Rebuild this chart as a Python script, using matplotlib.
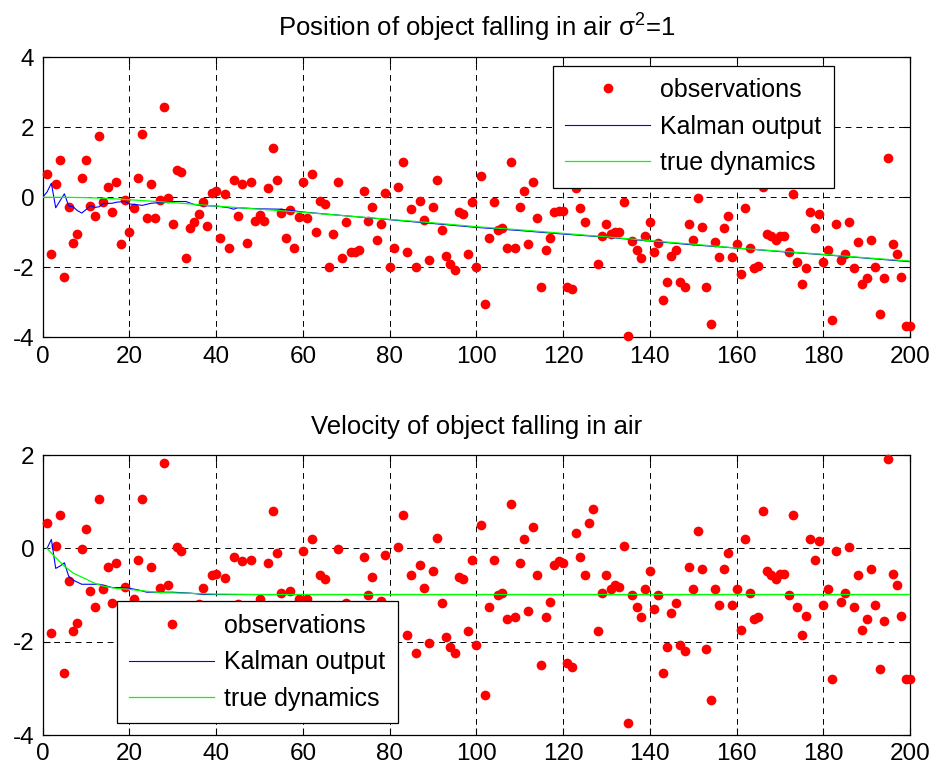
import matplotlib
matplotlib.use("Agg")
import matplotlib.pyplot as plt
import numpy as np

plt.rcParams['font.family'] = ['Liberation Sans', 'DejaVu Sans']
plt.rcParams['mathtext.fontset'] = 'custom'
plt.rcParams['mathtext.rm'] = 'Liberation Sans'
plt.rcParams['axes.unicode_minus'] = False

# ---------------- data ----------------
obs_pos = [0.66, -1.62, 0.37, 1.06, -2.27, -0.27, -1.30, -1.05, 0.54, 1.07,
           -0.25, -0.53, 1.74, -0.14, 0.30, -0.43, 0.43, -1.33, -0.08, -1.00,
           -0.31, 0.54, 1.80, -0.60, 0.37, -0.60, -0.08, 2.59, -0.01, -0.76,
           0.78, 0.71, -1.74, -0.89, -0.70, -0.49, -0.14, -0.82, 0.13, 0.19,
           -1.17, 0.09, -1.46, 0.50, -0.53, 0.37, -1.32, 0.43, -0.67, -0.50,
           -0.67, 0.26, 1.40, 0.48, -0.44, -1.17, -0.36, -1.46, -0.55, 0.43,
           -0.60, 0.66, -1.00, -0.10, -0.20, -1.98, -1.06, 0.43, -1.74, -0.71,
           -1.57, -1.57, -1.50, 0.19, -0.67, -0.27, -1.22, -0.77, 0.13, -1.98,
           -1.46, 0.30, 1.00, -1.57, -0.33, -1.98, -0.10, -0.65, -1.79, -0.27,
           0.50, -0.94, -1.68, -1.90, -2.08, -0.43, -0.49, -1.62, -0.14, -1.98,
           0.61, -3.06, -1.17, -0.14, -0.94, -0.89, -1.46, 1.00, -1.46, -0.27,
           0.19, -1.34, 0.43, -0.60, -2.55, -1.50, -1.17, -0.43, -0.38, -0.38,
           -2.55, -2.61, 0.26, -0.32, -0.71, 0.45, 0.75, -1.90, -1.10, -0.77,
           -1.06, -1.00, -1.00, -0.14, -3.96, -1.25, -1.50, -1.74, -1.10, -0.71,
           -1.56, -1.30, -2.93, -2.42, -1.68, -1.50, -2.42, -2.55, -0.77, -1.22,
           -0.03, -0.84, -2.55, -3.63, -1.29, -1.70, -0.89, -0.53, -1.70, -1.33,
           -2.20, -0.32, -1.46, -2.03, -1.96, 0.30, -1.05, -1.10, -1.22, -1.10,
           -1.10, -1.56, 0.09, -1.85, -2.49, -2.03, -0.43, -0.89, -0.49, -1.85,
           -1.50, -3.50, -0.76, -1.79, -1.62, -0.71, -2.03, -1.29, -2.49, -2.31,
           -1.22, -1.98, -3.34, -2.31, 1.11, -1.33, -1.62, -2.27, -3.68, -3.68]
obs_pos_x = list(range(1, 201))

obs_vel_x = [1, 2, 3, 4, 5, 6, 7, 8, 9, 10, 11, 12, 13, 14, 15, 16, 17, 19,
             21, 22, 23, 25, 27, 28, 29, 31, 32, 36, 37, 39, 40, 42, 44, 45,
             46, 48, 50, 52, 53, 54, 55, 57, 59, 60, 61, 62, 64, 65, 68, 70,
             74, 75, 76, 78, 79, 82, 83] + list(range(84, 201))
obs_vel = [0.54, -1.82, 0.06, 0.71, -2.67, -0.70, -1.77, -1.60, -0.02, 0.41,
           -0.92, -1.26, 1.05, -0.88, -0.40, -1.18, -0.32, -0.82,
           -1.09, -0.24, 1.05, -0.40, -0.86, 1.82, -0.79, 0.03, -0.06, -1.20,
           -0.86, -0.57, -0.54, -0.63, -0.19, -1.20, -0.27, -0.24, -1.09,
           -0.32, 0.79, -0.11, -0.96, -0.91, -1.09, -0.06, -1.09, 0.19, -0.58,
           -0.66, -0.02, -1.18, -0.19, -1.00, -0.61, -1.13, -0.15, 0.03, 0.71,
           # 84 .. 200
           -1.86, -0.58, -2.24, -0.36, -0.86, -2.03, -0.49, 0.23, -1.18, -1.91,
           -2.11, -2.24, -0.61, -0.66, -1.77, -0.24, -2.07, 0.49, -3.15, -1.26,
           -0.24, -1.00, -0.96, -1.52, 0.96, -1.48, -0.32, 0.19, -1.35, 0.45,
           -0.58, -2.51, -1.48, -1.14, -0.36, -0.27, -0.32, -2.46, -2.55, 0.32,
           -0.19, -0.58, 0.54, 0.84, -1.77, -0.96, -0.58, -0.88, -0.79, -0.83,
           0.06, -3.75, -1.00, -1.26, -1.48, -0.88, -0.49, -1.31, -1.00, -2.67,
           -2.11, -1.39, -1.18, -2.07, -2.20, -0.40, -0.88, 0.37, -0.45, -2.16,
           -3.24, -0.88, -1.22, -0.45, -0.11, -1.22, -0.88, -1.74, 0.19, -0.96,
           -1.52, -1.48, 0.79, -0.49, -0.58, -0.66, -0.54, -0.54, -1.00, 0.71,
           -1.26, -1.86, -1.44, 0.19, -0.24, 0.16, -1.22, -0.88, -2.81, -0.06,
           -1.14, -0.96, 0.02, -1.26, -0.58, -1.74, -1.52, -0.45, -1.22, -2.59,
           -1.56, 1.91, -0.54, -0.79, -1.44, -2.81, -2.81]

kal_pos_x = [0, 1, 2, 3, 4, 5, 6, 7, 8, 9, 10, 11, 12, 13, 14, 16, 17, 19, 20,
             23, 25, 27, 30, 33, 35, 37, 40, 43, 44, 45, 50, 55, 60, 70, 80,
             90, 100, 110, 120, 130, 140, 150, 160, 170, 180, 190, 200]
kal_pos = [0.0, 0.15, 0.40, -0.30, -0.10, 0.10, -0.25, -0.27, -0.38, -0.45,
           -0.35, -0.24, -0.29, -0.27, -0.18, -0.17, -0.14, -0.12, -0.19,
           -0.23, -0.17, -0.15, -0.12, -0.12, -0.21, -0.24, -0.25, -0.30,
           -0.34, -0.30, -0.33, -0.34, -0.42, -0.53, -0.64, -0.75, -0.86,
           -0.95, -1.05, -1.14, -1.25, -1.36, -1.45, -1.55, -1.64, -1.74, -1.84]

true_pos_x = [0, 5, 10, 15, 20, 25, 30, 35, 40, 50, 60, 70, 80, 90, 100, 110,
              120, 130, 140, 150, 160, 170, 180, 190, 200]
true_pos = [0.0, 0.0, -0.01, -0.03, -0.07, -0.11, -0.15, -0.20, -0.25, -0.34,
            -0.43, -0.53, -0.63, -0.73, -0.84, -0.93, -1.03, -1.13, -1.24,
            -1.34, -1.45, -1.54, -1.63, -1.73, -1.82]

kal_vel_x = [1, 2, 3, 4, 5, 6, 7, 9, 11, 13, 14, 16, 19, 22, 24, 30, 34, 37,
             40, 200]
kal_vel = [0.0, 0.19, -0.43, -0.38, -0.31, -0.60, -0.68, -0.77, -0.77, -0.77,
           -0.79, -0.84, -0.84, -0.89, -0.94, -0.94, -0.96, -0.99, -0.99, -0.99]

true_vel_x = [1, 3, 5, 7, 10, 12, 14, 17, 20, 22, 25, 28, 32, 36, 40, 50, 200]
true_vel = [0.0, -0.20, -0.38, -0.53, -0.66, -0.75, -0.81, -0.86, -0.88,
            -0.90, -0.93, -0.95, -0.96, -0.97, -0.98, -0.99, -0.99]

titles = ['Position of object falling in air $\\mathregular{\\sigma^2}$=1',
          'Velocity of object falling in air']
xticks = list(range(0, 201, 20))
yticks_top = [-4, -2, 0, 2, 4]
yticks_bot = [-4, -2, 0, 2]

# ---------------- figure ----------------
W, H = 938, 771
fig = plt.figure(figsize=(W / 100, H / 100), dpi=100)
left, width = 42.7 / W, 867.3 / W
ax1 = fig.add_axes([left, 1 - 337.3 / H, width, 280 / H])
ax2 = fig.add_axes([left, 1 - 735 / H, width, 280 / H])

FS = 17.5
FS_TITLE = 18.5
FS_LEG = 18

def style(ax, yl, yt):
    ax.set_xlim(0, 200)
    ax.set_ylim(*yl)
    ax.set_xticks(xticks)
    ax.set_yticks(yt)
    ax.tick_params(direction='in', length=5, width=0.8, top=True, right=True,
                   labelsize=FS, pad=6)
    ax.grid(True, color='black', linestyle=(0, (6, 5)), linewidth=0.7)
    for s in ax.spines.values():
        s.set_linewidth(0.9)
    ax.set_axisbelow(True)

for ax, ox, oy, kx, ky, tx, ty, yl, yt, title in [
        (ax1, obs_pos_x, obs_pos, kal_pos_x, kal_pos, true_pos_x, true_pos, (-4, 4), yticks_top, titles[0]),
        (ax2, obs_vel_x, obs_vel, kal_vel_x, kal_vel, true_vel_x, true_vel, (-4, 2), yticks_bot, titles[1])]:
    style(ax, yl, yt)
    ax.plot(ox, oy, 'o', color='red', markersize=7, markeredgewidth=0,
            label='observations', clip_on=False, zorder=3)
    ax.plot(kx, ky, '-', color='blue', linewidth=0.8, label='Kalman output', zorder=4)
    ax.plot(tx, ty, '-', color='#00ff00', linewidth=0.9, label='true dynamics', zorder=4)
    ax.set_title(title, fontsize=FS_TITLE, pad=15)

leg_kw = dict(fontsize=FS_LEG, frameon=True, fancybox=False, edgecolor='black',
              framealpha=1, borderaxespad=0, handlelength=3.4, handletextpad=0.4,
              labelspacing=0.5, borderpad=0.5, numpoints=1)
l1 = ax1.legend(loc='upper right', bbox_to_anchor=(0.9124, 0.970), **leg_kw)
l2 = ax2.legend(loc='lower left', bbox_to_anchor=(0.0853, 0.0418), **leg_kw)
for l in (l1, l2):
    l.get_frame().set_linewidth(0.9)
    l.set_zorder(10)

fig.savefig('out.png', dpi=100)
